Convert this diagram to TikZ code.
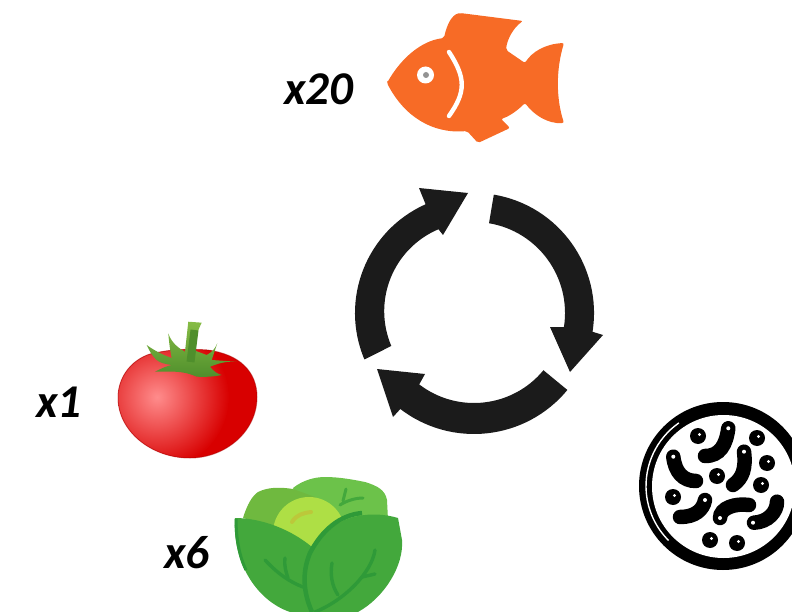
\documentclass[tikz,border=0pt]{standalone}
\usepackage{fontspec}
\setmainfont{Carlito}
\usetikzlibrary{calc}
\definecolor{fishorange}{HTML}{F76B26}
\definecolor{cyclegray}{HTML}{1B1B1B}
\definecolor{tomatored}{HTML}{D80000}
\definecolor{stemlight}{HTML}{86BC45}
\definecolor{stemdark}{HTML}{4F8F2C}
\definecolor{leafback}{HTML}{6CC24A}
\definecolor{leafside}{HTML}{6FB93F}
\definecolor{leaffront}{HTML}{43A83C}
\definecolor{leafvein}{HTML}{2F9A38}
\definecolor{cabbagehead}{HTML}{AEDF45}
\definecolor{headmark}{HTML}{BCC83A}
\tikzset{
  countlabel/.style={font=\fontsize{47}{47}\selectfont\bfseries\itshape, inner sep=0pt},
  vein/.style={leafvein, line width=3.4pt, line cap=round},
  germ/.style={black, line width=14.5pt, line cap=round},
}
\begin{document}
\begin{tikzpicture}[x=1pt, y=1pt]
  \useasboundingbox (0,-612) rectangle (792,0);
  \clip (0,-612) rectangle (792,0);
  % etiquetas
  \node[countlabel] (fishcount) at (319,-89) {x20};
  \node[countlabel] (tomatocount) at (59,-402) {x1};
  \node[countlabel] (cabbagecount) at (187,-553) {x6};
  % pez
  \fill[fishorange, rounded corners=2pt] (387,-83) .. controls (400,-60) and (420,-41) .. (444,-38)
    .. controls (447,-24) and (452,-15) .. (460,-13) -- (523,-21)
    .. controls (513,-28) and (507,-40) .. (506,-50) -- (525,-63)
    .. controls (532,-52) and (545,-44) .. (564,-43)
    .. controls (556,-70) and (556,-98) .. (564,-123)
    .. controls (548,-124) and (534,-115) .. (525,-103) .. controls (518,-110) and (510,-116) .. (501,-119)
    -- (510,-128) -- (478,-143) -- (467,-131)
    .. controls (432,-134) and (404,-116) .. cycle;
  \draw[white, line width=4.4pt, line cap=round] (449,-52) .. controls (466,-78) and (466,-92) .. (449,-116);
  \fill[white] (425.5,-75) circle (8.5);
  \fill[gray!85] (426,-75) circle (3);
  % ciclo
  \coordinate (hub) at (474,-313);
  \fill[cyclegray] ($(hub)+(80.5:120)$) arc[start angle=80.5, end angle=-9, radius=120]
    -- (603,-335) -- (570,-372) -- (550,-327) -- ($(hub)+(-9:91)$)
    arc[start angle=-9, end angle=80.5, radius=91] -- cycle;
  \fill[cyclegray] ($(hub)+(-39.5:121)$) arc[start angle=-39.5, end angle=-127.5, radius=121]
    -- (393,-417) -- (377,-369) -- (425,-374) -- ($(hub)+(-127.5:90)$)
    arc[start angle=-127.5, end angle=-39.5, radius=90] -- cycle;
  \fill[cyclegray] ($(hub)+(203:119)$) arc[start angle=203, end angle=114, radius=119]
    -- (419,-188) -- (468,-193) -- (443,-235) -- ($(hub)+(113:91)$)
    arc[start angle=113, end angle=203, radius=89] -- cycle;
  % tomate
  \begin{scope}
    \clip (118,-398) .. controls (118,-372) and (138,-354) .. (160,-352)
      .. controls (175,-349) and (192,-349) .. (207,-350)
      .. controls (240,-354) and (257,-372) .. (257,-397)
      .. controls (257,-432) and (225,-458) .. (190,-458)
      .. controls (150,-458) and (118,-430) .. cycle;
    \fill[tomatored] (110,-345) rectangle (265,-465);
    \shade[inner color=red!45!white, outer color=tomatored] (157,-397) circle (72);
  \end{scope}
  \draw[red!65!black, opacity=.45, line width=1pt] (118,-398) .. controls (118,-372) and (138,-354) .. (160,-352)
      .. controls (175,-349) and (192,-349) .. (207,-350)
      .. controls (240,-354) and (257,-372) .. (257,-397)
      .. controls (257,-432) and (225,-458) .. (190,-458)
      .. controls (150,-458) and (118,-430) .. cycle;
  \shade[top color=stemlight, bottom color=stemdark]
    (168.3,-333.3) .. controls (171,-342) and (178,-348) .. (185,-351.7) -- (188.3,-321.7) -- (201.7,-322.7)
    .. controls (197,-332) and (195,-340) .. (193.3,-350) -- (206.7,-355) .. controls (212,-352) and (215,-349) .. (217.3,-343.3)
    -- (211.7,-360) -- (236.7,-361.7) .. controls (225,-361) and (217,-364) .. (210,-366.7)
    .. controls (214,-372) and (218,-374) .. (221.7,-375) .. controls (212,-377) and (204,-377) .. (196.7,-376.7)
    .. controls (188,-373) and (182,-372) .. (175,-371.7) -- (155,-371.7) .. controls (162,-368) and (167,-366) .. (171.7,-365)
    .. controls (165,-364) and (160,-363) .. (156.7,-360) .. controls (152,-356) and (149,-350) .. (146.7,-345)
    .. controls (155,-351) and (163,-355) .. (171.7,-358) .. controls (170,-350) and (169,-342) .. cycle;
  \draw[stemdark, line width=8pt] (194.5,-330) -- (190.5,-362);
  % repollo
  \fill[leafback] (293,-488) .. controls (303,-480) and (315,-477) .. (325,-477)
    .. controls (340,-477) and (355,-480) .. (365,-482)
    .. controls (378,-486) and (385,-490) .. (387,-500) -- (388,-520) -- (310,-530) -- cycle;
  \fill[leafside] (243,-518) .. controls (247,-505) and (252,-496) .. (258,-492)
    .. controls (268,-487) and (280,-487) .. (293,-489) -- (315,-497) -- (300,-535) -- cycle;
  \fill[cabbagehead] (309,-533) circle (36);
  \draw[line width=4pt, line cap=round, headmark] (292,-522) .. controls (296,-515) and (303,-513) .. (311,-512);
  \draw[leaffront, line width=3pt, line cap=round] (340,-505) .. controls (346,-501) and (355,-498) .. (363,-498);
  \draw[leaffront, line width=3pt, line cap=round] (346,-489) -- (343,-501);
  \fill[leaffront] (235,-518) .. controls (255,-518) and (285,-525) .. (312,-547)
    .. controls (300,-570) and (300,-590) .. (312,-612) -- (290,-612)
    .. controls (255,-600) and (232,-560) .. cycle;
  \fill[leaffront] (398,-518) .. controls (375,-511) and (340,-513) .. (322,-538)
    -- (312,-547) .. controls (298,-570) and (300,-590) .. (312,-612) -- (358,-612)
    .. controls (385,-597) and (404,-565) .. (402,-540) -- cycle;
  \draw[leafvein, line width=3pt] (236,-519) .. controls (236,-540) and (240,-558) .. (246,-570);
  \draw[leafvein, line width=4.5pt] (362,-513) .. controls (340,-515) and (322,-530) .. (310,-553)
    .. controls (302,-572) and (303,-592) .. (312,-612);
  \draw[vein] (265,-560) .. controls (278,-574) and (290,-582) .. (303,-587);
  \draw[vein] (285,-558) .. controls (284,-566) and (286,-572) .. (288,-578);
  \draw[vein] (375,-550) .. controls (372,-572) and (345,-600) .. (315,-612);
  \draw[vein] (332,-563) .. controls (330,-575) and (332,-586) .. (338,-595);
  \draw[vein] (375,-574) -- (362,-577);
  % placa de bacterias
  \fill[black] (723,-486) circle (84);
  \fill[white] (723.5,-486.5) circle (71.5);
  \draw[white, line width=1.4pt] ($(723,-486)+(125:77)$) arc[start angle=125, end angle=225, radius=77];
  \draw[germ] (728.3,-428.3) .. controls (726,-445) and (720,-456) .. (705,-456);
  \draw[germ] (673.3,-456.7) .. controls (675,-472) and (683,-481) .. (696,-481);
  \draw[germ] (744,-451.7) .. controls (746,-468) and (743,-478) .. (733,-485);
  \draw[germ] (705,-500) .. controls (703,-510) and (695,-517) .. (680,-517);
  \draw[germ] (720,-518) .. controls (720,-508) and (735,-503) .. (749,-505);
  \draw[germ] (777,-501.7) .. controls (777,-512) and (768,-522) .. (754,-522.7);
  \foreach \dotx/\doty in {698/436, 757/438, 767/463, 717/476, 761/485, 673/497, 710/540, 737/543}{
    \fill[black] (\dotx,-\doty) circle (8);
    \fill[white] (\dotx+1.5,-\doty+1.5) circle (1.6);
  }
  \foreach \dotx/\doty in {728.3/428.3, 673.3/456.7, 744/451.7, 705/500, 720/518, 753/522.7}{
    \fill[white] (\dotx,-\doty) circle (2);
  }
\end{tikzpicture}
\end{document}
